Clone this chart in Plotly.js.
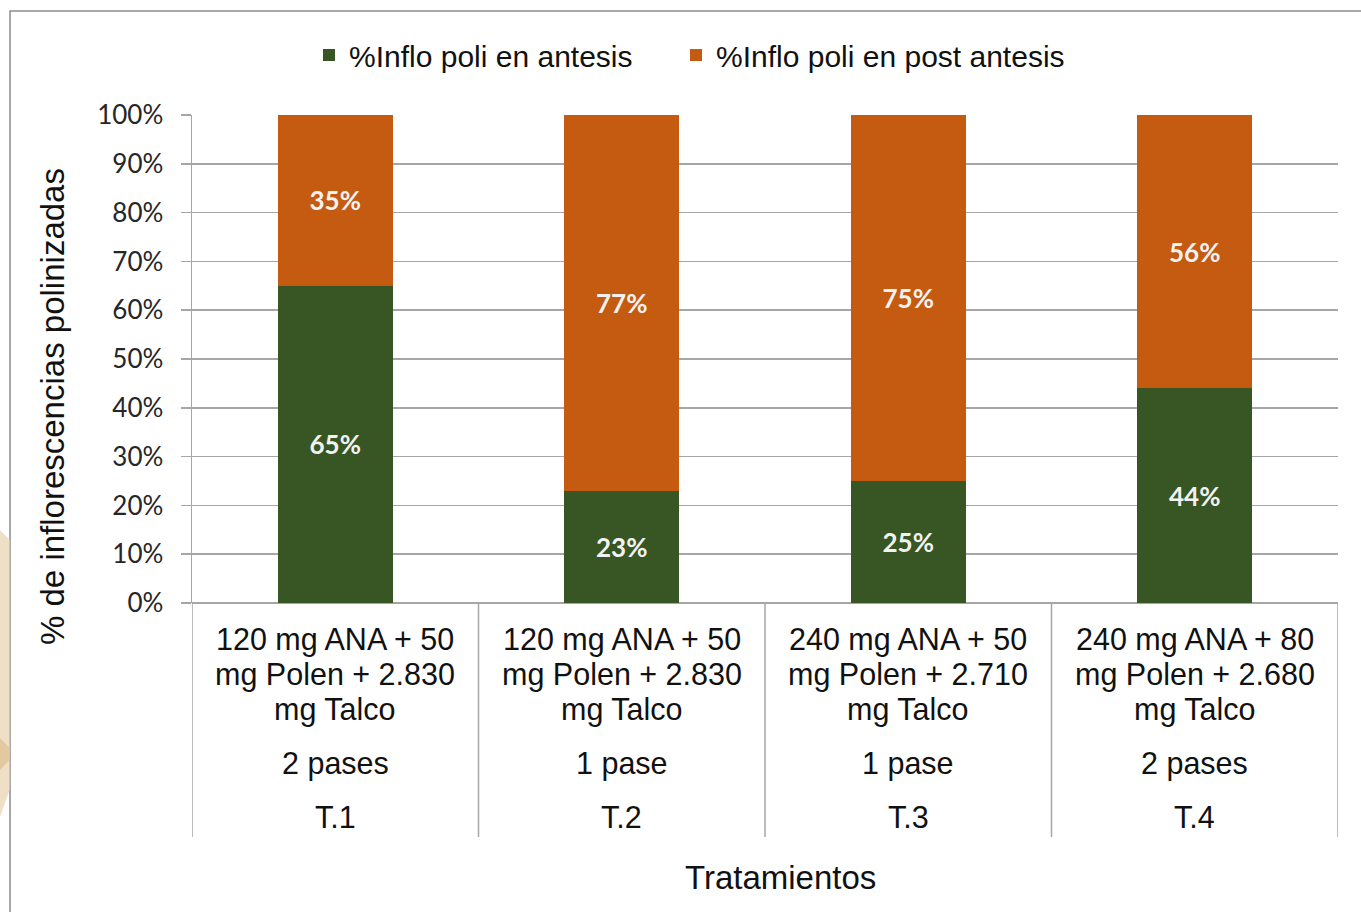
<!DOCTYPE html>
<html>
<head>
<meta charset="utf-8">
<script src="https://cdn.plot.ly/plotly-3.0.1.min.js"></script>
<style>html,body{margin:0;padding:0;background:#fff;}#chart{width:1361px;height:912px;}</style>
</head>
<body>
<div id="chart"></div>
<script>
// ---- data ----
const categories = ["T.1", "T.2", "T.3", "T.4"];
const treatLine1 = ["120 mg ANA + 50", "120 mg ANA + 50", "240 mg ANA + 50", "240 mg ANA + 80"];
const treatLine2 = ["mg Polen + 2.830", "mg Polen + 2.830", "mg Polen + 2.710", "mg Polen + 2.680"];
const treatLine3 = ["mg Talco", "mg Talco", "mg Talco", "mg Talco"];
const passes = ["2 pases", "1 pase", "1 pase", "2 pases"];
const antesis = [65, 23, 25, 44];
const postAntesis = [35, 77, 75, 56];
const seriesNames = ["%Inflo poli en antesis", "%Inflo poli en post antesis"];
const yTickVals = [0, 10, 20, 30, 40, 50, 60, 70, 80, 90, 100];
const yTickText = ["0%", "10%", "20%", "30%", "40%", "50%", "60%", "70%", "80%", "90%", "100%"];

// ---- layout geometry (pixels) ----
const W = 1361, H = 912;
const L = 192, R = 1338, T = 115, B = 603;
const px = p => (p - L) / (R - L);
const py = q => (B - q) / (B - T);

const green = "#375623", orange = "#C55A11";
const labelFont = "Liberation Sans, Arial, sans-serif";
const calFont = "Lato, Carlito, Calibri, sans-serif";

const dataLabelFont = {family: calFont, size: 26, color: "#F2F2F2", weight: "bold"};
const traces = [
  {
    type: "bar", x: categories, y: antesis, name: seriesNames[0], legend: "legend",
    marker: {color: green}, width: 0.4,
    text: antesis.map(v => v + "%"), texttemplate: "%{text}",
    textposition: "inside", insidetextanchor: "middle",
    textfont: dataLabelFont, hoverinfo: "skip"
  },
  {
    type: "bar", x: categories, y: postAntesis, name: seriesNames[1], legend: "legend2",
    marker: {color: orange}, width: 0.4,
    text: postAntesis.map(v => v + "%"), texttemplate: "%{text}",
    textposition: "inside", insidetextanchor: "middle",
    textfont: dataLabelFont, hoverinfo: "skip"
  }
];

const annotations = [];
const lineYs = [639, 674, 709, 763, 817];
categories.forEach((c, i) => {
  const lines = [treatLine1[i], treatLine2[i], treatLine3[i], passes[i], c];
  lines.forEach((t, k) => {
    annotations.push({
      text: t, x: c, xref: "x", y: py(lineYs[k]), yref: "paper",
      xanchor: "center", yanchor: "middle", showarrow: false,
      font: {family: labelFont, size: 30.5, color: "#111111"}
    });
  });
});
annotations.push({
  text: "% de inflorescencias polinizadas", textangle: -90,
  x: px(52), xref: "paper", y: py(407), yref: "paper",
  xanchor: "center", yanchor: "middle", showarrow: false,
  font: {family: labelFont, size: 33, color: "#111111"}
});
annotations.push({
  text: "Tratamientos",
  x: px(780), xref: "paper", y: py(878), yref: "paper",
  xanchor: "center", yanchor: "middle", showarrow: false,
  font: {family: labelFont, size: 33, color: "#111111"}
});

const shapes = [];
// category dividers
[-0.5, 0.5, 1.5, 2.5, 3.5].forEach(v => {
  shapes.push({type: "line", xref: "x", yref: "paper", x0: v, x1: v, y0: py(603), y1: py(837),
    line: {color: "#A6A6A6", width: 1.5}});
});
// chart border
shapes.push({type: "rect", xref: "paper", yref: "paper", x0: px(10), x1: px(1370), y0: py(920), y1: py(11),
  line: {color: "#8C8C8C", width: 1.5}, fillcolor: "rgba(0,0,0,0)", layer: "below"});
// beige slide decoration at left edge
shapes.push({type: "path", xref: "paper", yref: "paper", layer: "below",
  path: `M ${px(0)},${py(530)} L ${px(9.5)},${py(540)} L ${px(9.5)},${py(790)} L ${px(0)},${py(817)} Z`,
  fillcolor: "#EEDFC6", line: {width: 0}});
shapes.push({type: "path", xref: "paper", yref: "paper", layer: "below",
  path: `M ${px(0)},${py(738)} L ${px(9.5)},${py(748)} L ${px(9.5)},${py(760)} L ${px(0)},${py(770)} Z`,
  fillcolor: "#E3C9A0", line: {width: 0}});

const legendFont = {family: labelFont, size: 30, color: "#111111"};
const layout = {
  width: W, height: H,
  margin: {l: L, r: W - R, t: T, b: H - B, pad: 0},
  paper_bgcolor: "#ffffff", plot_bgcolor: "#ffffff",
  barmode: "stack",
  showlegend: true,
  legend: {orientation: "h", x: px(309), xanchor: "left", y: py(55), yanchor: "middle",
    font: legendFont, itemclick: false, itemdoubleclick: false, bgcolor: "rgba(0,0,0,0)"},
  legend2: {orientation: "h", x: px(676), xanchor: "left", y: py(55), yanchor: "middle",
    font: legendFont, itemclick: false, itemdoubleclick: false, bgcolor: "rgba(0,0,0,0)"},
  xaxis: {type: "category", range: [-0.5, 3.5], showticklabels: false, showgrid: false,
    zeroline: false, showline: false, ticks: "", fixedrange: true},
  yaxis: {range: [0, 100], tickmode: "array", tickvals: yTickVals, ticktext: yTickText, showgrid: true,
    gridcolor: "#A6A6A6", gridwidth: 1.5, zeroline: true, zerolinecolor: "#A6A6A6", zerolinewidth: 1.5,
    showline: true, linecolor: "#A6A6A6", linewidth: 1.5,
    ticks: "outside", ticklen: 10, tickcolor: "#A6A6A6", tickwidth: 1.5, ticklabelstandoff: 12,
    tickfont: {family: calFont, size: 26, color: "#262626"}, fixedrange: true},
  annotations: annotations,
  shapes: shapes
};

Plotly.newPlot("chart", traces, layout, {displayModeBar: false, staticPlot: true});
</script>
</body>
</html>
